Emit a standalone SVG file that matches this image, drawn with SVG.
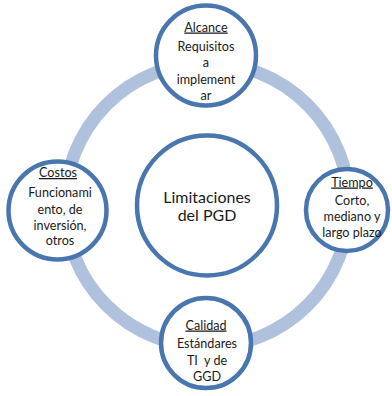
<svg xmlns="http://www.w3.org/2000/svg" width="392" height="396" viewBox="0 0 392 396">
<style>
.node{fill:#fff;stroke:#4A76B0;stroke-width:4.5}
.ring{fill:none;stroke:#AFC1DD;stroke-width:13}
text{font-family:Lato,"Liberation Sans",sans-serif;font-size:12.6px;fill:#1a1a1a;text-anchor:middle}
.t{text-decoration:underline}
.c{font-size:16px}
</style>
<rect width="392" height="396" fill="#fff"/>
<g id="connectors">
<circle class="ring" cx="207" cy="205" r="142"/>
</g>
<g id="center">
<circle class="node" cx="207" cy="205.5" r="70"/>
<text class="c" x="207" y="202.5">Limitaciones</text>
<text class="c" x="207" y="221">del PGD</text>
</g>
<g id="alcance">
<circle class="node" cx="206" cy="55.5" r="50"/>
<text class="t" x="206" y="31.5">Alcance</text>
<text x="206" y="51">Requisitos</text>
<text x="206" y="67">a</text>
<text x="206" y="83.5">implement</text>
<text x="206" y="99.5">ar</text>
</g>
<g id="costos">
<circle class="node" cx="57.5" cy="210.5" r="49"/>
<text class="t" x="58" y="177">Costos</text>
<text x="60" y="196.5">Funcionami</text>
<text x="60" y="213.5">ento, de</text>
<text x="60" y="229.5">inversión,</text>
<text x="60" y="245">otros</text>
</g>
<g id="tiempo">
<circle class="node" cx="347" cy="210" r="41"/>
<text class="t" x="352" y="186.5">Tiempo</text>
<text x="352" y="204.5">Corto,</text>
<text x="352" y="220.5">mediano y</text>
<text x="352" y="236.5">largo plazo</text>
</g>
<g id="calidad">
<circle class="node" cx="206" cy="343" r="45"/>
<text class="t" x="206" y="329.5">Calidad</text>
<text x="207" y="347.5">Estándares</text>
<text x="207" y="364.5" style="white-space:pre">TI  y de</text>
<text x="207" y="380.5">GGD</text>
</g>
</svg>
